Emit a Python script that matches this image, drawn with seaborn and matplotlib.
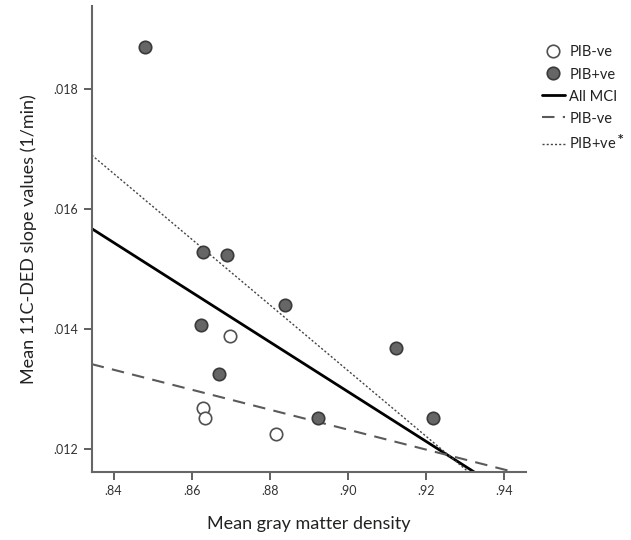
import numpy as np
import pandas as pd
import seaborn as sns
import matplotlib.pyplot as plt
from matplotlib.lines import Line2D
from matplotlib.ticker import FuncFormatter

sns.set_style('white')
plt.rcParams['font.family'] = ['Lato', 'DejaVu Sans']

# values
gm_neg = [0.8698, 0.8628, 0.8634, 0.8816]
ded_neg = [0.01388, 0.01268, 0.01252, 0.01225]
gm_pos = [0.8481, 0.8630, 0.8691, 0.8838, 0.8624, 0.9122, 0.8671, 0.8924, 0.9217]
ded_pos = [0.01870, 0.01529, 0.01523, 0.01440, 0.01406, 0.01369, 0.01325, 0.01252, 0.01251]

df = pd.DataFrame({
    'gm': gm_neg + gm_pos,
    'ded': ded_neg + ded_pos,
    'group': ['PIB-ve'] * len(gm_neg) + ['PIB+ve'] * len(gm_pos),
})
neg = df[df['group'] == 'PIB-ve']
pos = df[df['group'] == 'PIB+ve']

fig = plt.figure(figsize=(6.31, 5.40), dpi=100)
ax = fig.add_axes([0.1453, 0.1265, 0.6883, 0.8624])

xlim = (0.8344, 0.9456)
ylim = (0.011621, 0.01939)
ax.set_xlim(xlim)
ax.set_ylim(ylim)

# fit lines (all MCI, PIB-ve, PIB+ve)
sns.regplot(x='gm', y='ded', data=df, scatter=False, ci=None, truncate=False,
            ax=ax, line_kws=dict(color='black', lw=2))
sns.regplot(x='gm', y='ded', data=neg, scatter=False, ci=None, truncate=False,
            ax=ax, line_kws=dict(color='#5a5a5a', lw=1.5, ls=(0, (6, 4))))
sns.regplot(x='gm', y='ded', data=pos, scatter=False, ci=None, truncate=False,
            ax=ax, line_kws=dict(color='#444444', lw=1, ls=(0, (1.5, 1.5))))

sns.scatterplot(x='gm', y='ded', data=neg, ax=ax, s=80, color='white',
                edgecolor='#505050', linewidth=1.2, zorder=5)
sns.scatterplot(x='gm', y='ded', data=pos, ax=ax, s=80, color='#666666',
                edgecolor='#3a3a3a', linewidth=1.2, zorder=5)

ax.set_xlim(xlim)
ax.set_ylim(ylim)
ax.set_xticks([0.84, 0.86, 0.88, 0.90, 0.92, 0.94])
ax.set_yticks([0.012, 0.014, 0.016, 0.018])
ax.xaxis.set_major_formatter(FuncFormatter(lambda v, p: f'{v:.2f}'.lstrip('0')))
ax.yaxis.set_major_formatter(FuncFormatter(lambda v, p: f'{v:.3f}'.lstrip('0')))

for side in ['top', 'right']:
    ax.spines[side].set_visible(False)
for side in ['left', 'bottom']:
    ax.spines[side].set_color('#666666')
    ax.spines[side].set_linewidth(1.5)
ax.tick_params(direction='out', length=6, width=1.2, color='#444444',
               labelsize=9, labelcolor='#333333', bottom=True, left=True)

ax.set_xlabel('Mean gray matter density', fontsize=13, color='#222222', labelpad=14)
ax.set_ylabel('Mean 11C-DED slope values (1/min)', fontsize=13, color='#222222', labelpad=12)

handles = [
    Line2D([], [], marker='o', ls='', markersize=9, markerfacecolor='white',
           markeredgecolor='#505050', markeredgewidth=1.2),
    Line2D([], [], marker='o', ls='', markersize=9, markerfacecolor='#666666',
           markeredgecolor='#3a3a3a', markeredgewidth=1.2),
    Line2D([], [], color='black', lw=2),
    Line2D([], [], color='#5a5a5a', lw=1.5, ls=(0, (6, 4))),
    Line2D([], [], color='#444444', lw=1, ls=(0, (1.5, 1.5))),
]
labels = ['PIB-ve', 'PIB+ve', 'All MCI', 'PIB-ve', 'PIB+ve$^{\\bf *}$']
leg = ax.legend(handles, labels, loc='upper left', bbox_to_anchor=(1.016, 0.934),
                frameon=False, fontsize=10.5, handlelength=1.6, handletextpad=0.3,
                labelspacing=0.55, borderaxespad=0.2)
for t in leg.get_texts():
    t.set_color('#222222')

fig.savefig('out.png', dpi=100)
